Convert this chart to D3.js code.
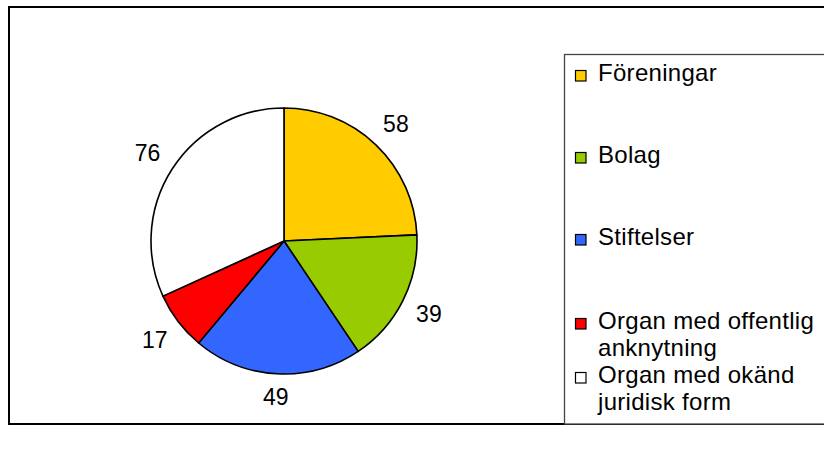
<!DOCTYPE html>
<html>
<head>
<meta charset="utf-8">
<script src="https://cdn.jsdelivr.net/npm/d3@7"></script>
<style>
  html, body { margin: 0; padding: 0; background: #fff; }
  svg { display: block; }
  text { font-family: "Liberation Sans", Arial, sans-serif; fill: #000; }
</style>
</head>
<body>
<svg id="chart" width="824" height="470"></svg>
<script>
// ---- data ----
const categories = ["Föreningar", "Bolag", "Stiftelser", "Organ med offentlig anknytning", "Organ med okänd juridisk form"];
const values = [58, 39, 49, 17, 76];
const colors = ["#FFCC00", "#99CC00", "#3366FF", "#FF0000", "#FFFFFF"];

// ---- layout ----
const W = 824, H = 470;
const cx = 284, cy = 241, r = 133, labelGap = 14;
const legendX = 564.5, legendY = 54.5;
const legendRowY = [81, 163, 245, 329, 383];
const lineH = 27;
const labelFont = 23, legendFont = 24;

const svg = d3.select("#chart");

// outer frame
svg.append("rect")
  .attr("x", 9).attr("y", 7)
  .attr("width", W + 10).attr("height", 417)
  .attr("fill", "#fff").attr("stroke", "#000").attr("stroke-width", 2);

const color = d3.scaleOrdinal().domain(categories).range(colors);

const data = categories.map((c, i) => ({ cat: c, value: values[i] }));
const pie = d3.pie().value(d => d.value).sort(null);
const arcs = pie(data);
const arc = d3.arc().innerRadius(0).outerRadius(r);

const g = svg.append("g").attr("transform", `translate(${cx},${cy})`);
g.selectAll("path.slice").data(arcs).enter().append("path")
  .attr("class", "slice")
  .attr("d", arc)
  .attr("fill", d => color(d.data.cat))
  .attr("stroke", "#000")
  .attr("stroke-width", 1.6)
  .attr("stroke-linejoin", "round");

// outside-end labels: box placed just beyond the rim along the bisector
g.selectAll("text.lbl").data(arcs).enter().append("text")
  .attr("class", "lbl")
  .style("font-size", labelFont + "px")
  .attr("text-anchor", "middle")
  .attr("dy", "0.36em")
  .text(d => d.data.value)
  .attr("transform", function(d) {
    const a = (d.startAngle + d.endAngle) / 2;
    const s = Math.sin(a), c = Math.cos(a);
    const hw = this.getComputedTextLength() / 2, hh = labelFont * 0.37;
    const R = r + labelGap + Math.abs(s) * hw + Math.abs(c) * hh;
    return `translate(${R * s},${-R * c})`;
  });

// legend
svg.append("rect")
  .attr("x", legendX).attr("y", legendY)
  .attr("width", 300).attr("height", 369.5)
  .attr("fill", "#fff").attr("stroke", "#444").attr("stroke-width", 1.3);

const maxW = 226;
const measure = svg.append("text").style("font-size", legendFont + "px")
  .style("letter-spacing", "0.3px").attr("visibility", "hidden");
function wrap(str) {
  const words = str.split(" ");
  const lines = [];
  let cur = "";
  words.forEach(w => {
    const test = cur ? cur + " " + w : w;
    measure.text(test);
    if (measure.node().getComputedTextLength() > maxW && cur) { lines.push(cur); cur = w; }
    else cur = test;
  });
  if (cur) lines.push(cur);
  return lines;
}

const items = svg.selectAll("g.leg").data(categories).enter().append("g")
  .attr("class", "leg")
  .attr("transform", (d, i) => `translate(0,${legendRowY[i]})`);

items.append("rect")
  .attr("x", 575.5).attr("y", -10.5)
  .attr("width", 10.5).attr("height", 10.5)
  .attr("fill", d => color(d))
  .attr("stroke", "#000").attr("stroke-width", 1.2);

items.append("text")
  .attr("x", 598)
  .style("font-size", legendFont + "px")
  .style("letter-spacing", "0.3px")
  .each(function(d) {
    const t = d3.select(this);
    wrap(d).forEach((ln, k) => {
      t.append("tspan").attr("x", 598).attr("y", k * lineH).text(ln);
    });
  });
measure.remove();
</script>
</body>
</html>
